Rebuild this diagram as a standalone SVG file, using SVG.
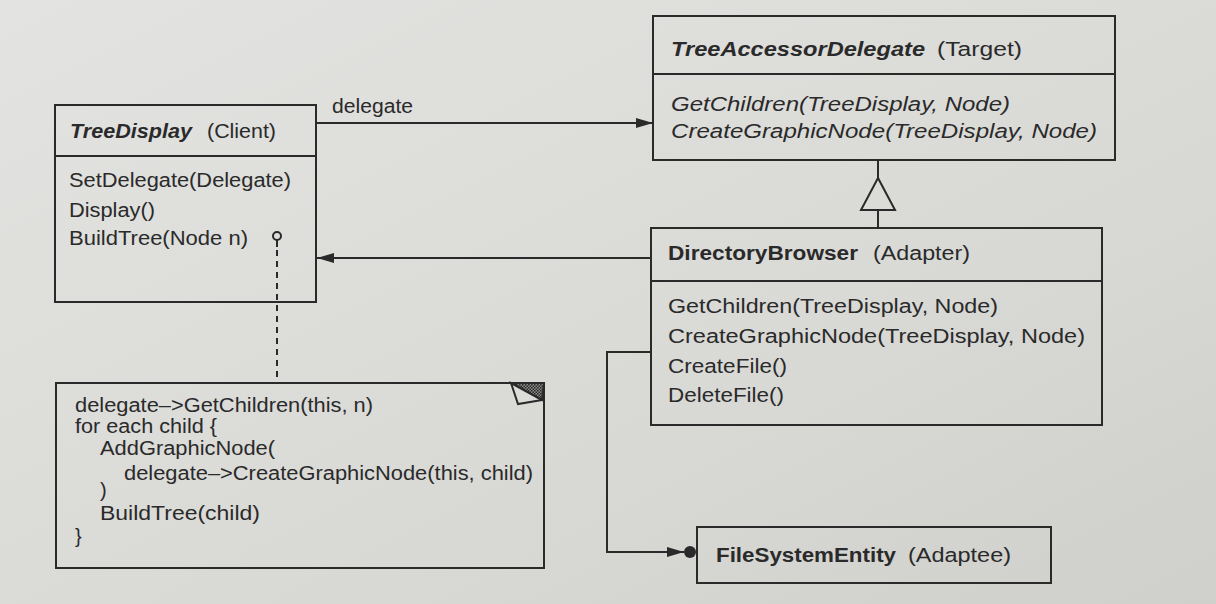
<svg xmlns="http://www.w3.org/2000/svg" width="1216" height="604" viewBox="0 0 1216 604">
<defs>
<linearGradient id="paper" x1="0" y1="0" x2="1" y2="1">
<stop offset="0" stop-color="#e3e3e1"/>
<stop offset="0.6" stop-color="#d9d9d6"/>
<stop offset="1" stop-color="#cfcfcc"/>
</linearGradient>
<pattern id="hatch" width="3" height="3" patternUnits="userSpaceOnUse">
<rect width="3" height="3" fill="#8a8a88"/>
<rect width="1.5" height="1.5" fill="#2a2a2a"/>
<rect x="1.5" y="1.5" width="1.5" height="1.5" fill="#2a2a2a"/>
</pattern>
<marker id="arrow" markerWidth="18" markerHeight="12" refX="17" refY="6" orient="auto" markerUnits="userSpaceOnUse">
<path d="M0,1 L17,6 L0,11 Z" fill="#2a2a2a"/>
</marker>
</defs>
<style>
.box{fill:none;stroke:#2a2a2a;stroke-width:2}
.line{fill:none;stroke:#2a2a2a;stroke-width:2}
.t{font-family:"Liberation Sans",Arial,Helvetica,sans-serif;font-size:20px;fill:#2a2a2a}
.b{font-weight:bold}
.i{font-style:italic}
</style>
<rect width="1216" height="604" fill="url(#paper)"/>

<g id="connectors">
<line class="line" x1="316" y1="123" x2="653" y2="123" marker-end="url(#arrow)"/>
<text class="t" x="332" y="113" textLength="81" lengthAdjust="spacingAndGlyphs">delegate</text>
<line class="line" x1="651" y1="258" x2="317" y2="258" marker-end="url(#arrow)"/>
<line class="line" x1="878" y1="160" x2="878" y2="178"/>
<polygon points="878,178 861,210 895,210" fill="#dbdbd8" stroke="#2a2a2a" stroke-width="2"/>
<line class="line" x1="878" y1="210" x2="878" y2="228"/>
<polyline class="line" points="651,352 607,352 607,552 684,552" marker-end="url(#arrow)"/>
<circle cx="690" cy="552" r="6" fill="#2a2a2a"/>
<circle cx="277" cy="236" r="4" fill="none" stroke="#2a2a2a" stroke-width="2"/>
<line class="line" x1="277" y1="240" x2="277" y2="247"/>
<line class="line" x1="277" y1="250" x2="277" y2="383" stroke-dasharray="6 5"/>
</g>

<g id="TreeDisplay">
<rect class="box" x="55" y="105" width="261" height="197"/>
<line class="line" x1="55" y1="156" x2="316" y2="156"/>
<text class="t b i" x="70" y="138" textLength="122" lengthAdjust="spacingAndGlyphs">TreeDisplay</text>
<text class="t" x="207" y="138" textLength="69" lengthAdjust="spacingAndGlyphs">(Client)</text>
<text class="t" x="69" y="187" textLength="222" lengthAdjust="spacingAndGlyphs">SetDelegate(Delegate)</text>
<text class="t" x="69" y="217" textLength="86" lengthAdjust="spacingAndGlyphs">Display()</text>
<text class="t" x="69" y="245" textLength="179" lengthAdjust="spacingAndGlyphs">BuildTree(Node n)</text>
</g>

<g id="TreeAccessorDelegate">
<rect class="box" x="653" y="16" width="462" height="144"/>
<line class="line" x1="653" y1="74" x2="1115" y2="74"/>
<text class="t b i" x="671" y="56" textLength="254" lengthAdjust="spacingAndGlyphs">TreeAccessorDelegate</text>
<text class="t" x="937" y="56" textLength="85" lengthAdjust="spacingAndGlyphs">(Target)</text>
<text class="t i" x="671" y="111" textLength="339" lengthAdjust="spacingAndGlyphs">GetChildren(TreeDisplay, Node)</text>
<text class="t i" x="671" y="138" textLength="426" lengthAdjust="spacingAndGlyphs">CreateGraphicNode(TreeDisplay, Node)</text>
</g>

<g id="DirectoryBrowser">
<rect class="box" x="651" y="228" width="451" height="197"/>
<line class="line" x1="651" y1="281" x2="1102" y2="281"/>
<text class="t b" x="668" y="260" textLength="190" lengthAdjust="spacingAndGlyphs">DirectoryBrowser</text>
<text class="t" x="873" y="260" textLength="97" lengthAdjust="spacingAndGlyphs">(Adapter)</text>
<text class="t" x="668" y="313" textLength="330" lengthAdjust="spacingAndGlyphs">GetChildren(TreeDisplay, Node)</text>
<text class="t" x="668" y="343" textLength="417" lengthAdjust="spacingAndGlyphs">CreateGraphicNode(TreeDisplay, Node)</text>
<text class="t" x="668" y="373" textLength="119" lengthAdjust="spacingAndGlyphs">CreateFile()</text>
<text class="t" x="668" y="402" textLength="116" lengthAdjust="spacingAndGlyphs">DeleteFile()</text>
</g>

<g id="FileSystemEntity">
<rect class="box" x="697" y="527" width="354" height="56"/>
<text class="t b" x="716" y="562" textLength="180" lengthAdjust="spacingAndGlyphs">FileSystemEntity</text>
<text class="t" x="908" y="562" textLength="103" lengthAdjust="spacingAndGlyphs">(Adaptee)</text>
</g>

<g id="note">
<rect class="box" x="56" y="383" width="488" height="185"/>
<polygon points="511,383 544,383 542,400" fill="url(#hatch)" stroke="#2a2a2a" stroke-width="2"/>
<polygon points="511,383 518,404 542,400" fill="#dcdcd9" stroke="#2a2a2a" stroke-width="2"/>
<text class="t" x="75" y="412" textLength="298" lengthAdjust="spacingAndGlyphs">delegate–&gt;GetChildren(this, n)</text>
<text class="t" x="75" y="433" textLength="142" lengthAdjust="spacingAndGlyphs">for each child {</text>
<text class="t" x="100" y="455" textLength="175" lengthAdjust="spacingAndGlyphs">AddGraphicNode(</text>
<text class="t" x="124" y="480" textLength="409" lengthAdjust="spacingAndGlyphs">delegate–&gt;CreateGraphicNode(this, child)</text>
<text class="t" x="100" y="497">)</text>
<text class="t" x="100" y="520" textLength="160" lengthAdjust="spacingAndGlyphs">BuildTree(child)</text>
<text class="t" x="75" y="543">}</text>
</g>
</svg>
